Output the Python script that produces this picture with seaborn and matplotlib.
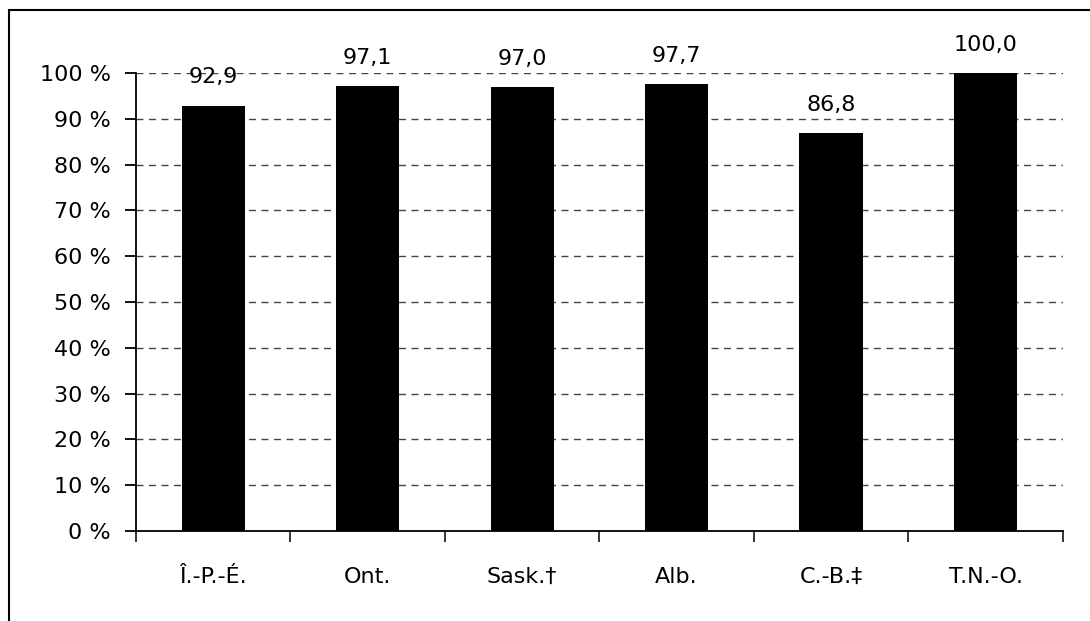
import matplotlib
matplotlib.use("Agg")
import matplotlib.pyplot as plt
import seaborn as sns
import pandas as pd
from matplotlib.patches import Rectangle
from matplotlib.ticker import FixedLocator, FuncFormatter

provinces = ["Î.-P.-É.", "Ont.", "Sask.†", "Alb.", "C.-B.‡", "T.N.-O."]
pct_values = [92.9, 97.1, 97.0, 97.7, 86.8, 100.0]
y_ticks = [0, 10, 20, 30, 40, 50, 60, 70, 80, 90, 100]

df = pd.DataFrame({"province": provinces, "pct": pct_values})

sns.set_theme(style="white")
plt.rcParams["font.family"] = ["DejaVu Sans"]

fig = plt.figure(figsize=(10.9, 6.21), dpi=100)
ax = fig.add_axes([0.1248, 0.1449, 0.8502, 0.7375])

sns.barplot(data=df, x="province", y="pct", color="black", width=0.41,
            saturation=1, edgecolor="black", linewidth=0, ax=ax, zorder=3)

ax.set_ylim(0, 100)
ax.set_xlim(-0.5, len(provinces) - 0.5)

# dashed gridlines
for t in y_ticks[1:]:
    ax.axhline(t, color="#444444", lw=1, ls=(0, (5, 4)), zorder=1)

ax.yaxis.set_major_locator(FixedLocator(y_ticks))
ax.yaxis.set_major_formatter(FuncFormatter(lambda v, p: f"{int(v)} %"))
ax.tick_params(axis="y", left=True, direction="out", length=8, width=1.3,
               pad=10, labelsize=16, colors="black")

# x: ticks on category boundaries, labels at centers
ax.set_xticks([i - 0.5 for i in range(len(provinces) + 1)])
ax.set_xticklabels([])
ax.set_xticks(range(len(provinces)), minor=True)
ax.set_xticklabels(provinces, minor=True)
ax.tick_params(axis="x", which="major", bottom=True, direction="out",
               length=8, width=1.3)
ax.tick_params(axis="x", which="minor", bottom=True, length=0, pad=26,
               labelsize=16, colors="black")

for side in ["top", "right"]:
    ax.spines[side].set_visible(False)
for side in ["left", "bottom"]:
    ax.spines[side].set_color("black")
    ax.spines[side].set_linewidth(1.3)

ax.set_xlabel("")
ax.set_ylabel("")

labels = [f"{v:.1f}".replace(".", ",") for v in pct_values]
ax.bar_label(ax.containers[0], labels=labels, padding=13, fontsize=16,
             color="black")

fig.patches.append(Rectangle((9 / 1090, -0.1), 1.2, 1.1 - 10 / 621,
                             transform=fig.transFigure, fill=False,
                             edgecolor="black", lw=1.5))

fig.savefig("out.png", dpi=100)
